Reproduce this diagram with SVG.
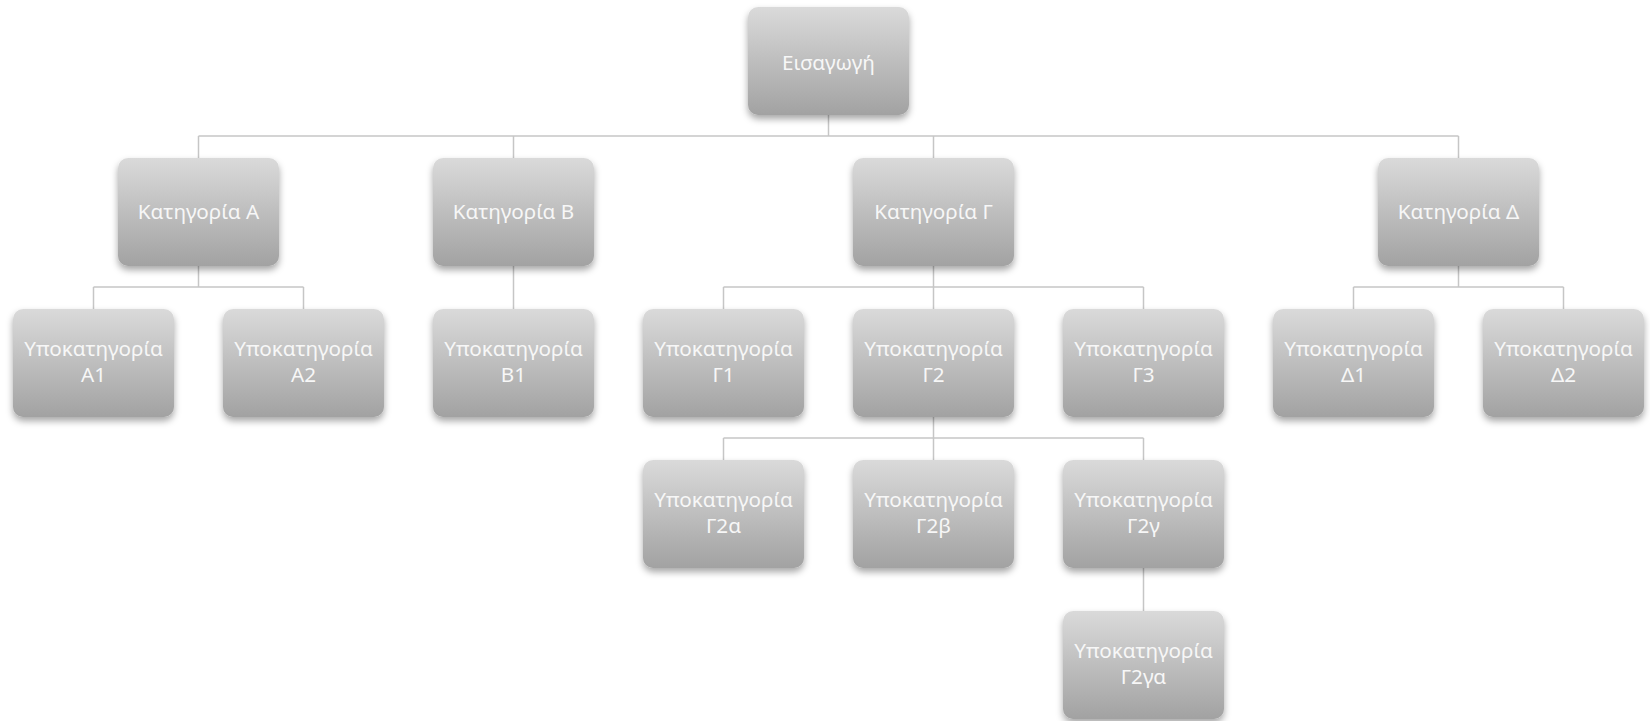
<svg xmlns="http://www.w3.org/2000/svg" width="1650" height="721" viewBox="0 0 1650 721">
  <style>
    .box { fill: url(#boxFill); filter: url(#soft); }
    .lbl { font-family: "Noto Sans", "Open Sans", sans-serif; font-size: 20.7px; fill: #f7f7f7; text-anchor: middle; }
    .wire { fill: none; stroke: #c6c6c6; stroke-width: 1.5; }
  </style>
  <defs>
    <linearGradient id="boxFill" x1="0" y1="0" x2="0" y2="1">
      <stop offset="0" stop-color="#dadada"/>
      <stop offset="0.5" stop-color="#bebebe"/>
      <stop offset="1" stop-color="#a2a2a2"/>
    </linearGradient>
    <filter id="soft" x="-10%" y="-10%" width="120%" height="135%">
      <feDropShadow dx="0" dy="4" stdDeviation="3.5" flood-color="#000" flood-opacity="0.35"/>
    </filter>
  </defs>
  <rect width="1650" height="721" fill="#ffffff"/>

  <g id="connectors">
    <!-- root to categories -->
    <path class="wire" d="M828.5 115 V136 M198.5 136 H1458.5 M198.5 136 V158 M513.5 136 V158 M933.5 136 V158 M1458.5 136 V158"/>
    <!-- category A -->
    <path class="wire" d="M198.5 266 V287 M93.5 287 H303.5 M93.5 287 V309 M303.5 287 V309"/>
    <!-- category B -->
    <path class="wire" d="M513.5 266 V309"/>
    <!-- category Γ -->
    <path class="wire" d="M933.5 266 V287 M723.5 287 H1143.5 M723.5 287 V309 M1143.5 287 V309 M933.5 287 V309"/>
    <!-- category Δ -->
    <path class="wire" d="M1458.5 266 V287 M1353.5 287 H1563.5 M1353.5 287 V309 M1563.5 287 V309"/>
    <!-- Γ2 children -->
    <path class="wire" d="M933.5 417 V438 M723.5 438 H1143.5 M723.5 438 V460 M1143.5 438 V460 M933.5 438 V460"/>
    <!-- Γ2γ child -->
    <path class="wire" d="M1143.5 568 V611"/>
  </g>

  <g id="n-root"><rect class="box" x="748" y="7" width="161" height="108" rx="10"/><text class="lbl" x="828.5" y="70">Εισαγωγή</text></g>

  <g id="n-a"><rect class="box" x="118" y="158" width="161" height="108" rx="10"/><text class="lbl" x="198.5" y="219">Κατηγορία Α</text></g>
  <g id="n-b"><rect class="box" x="433" y="158" width="161" height="108" rx="10"/><text class="lbl" x="513.5" y="219">Κατηγορία Β</text></g>
  <g id="n-g"><rect class="box" x="853" y="158" width="161" height="108" rx="10"/><text class="lbl" x="933.5" y="219">Κατηγορία Γ</text></g>
  <g id="n-d"><rect class="box" x="1378" y="158" width="161" height="108" rx="10"/><text class="lbl" x="1458.5" y="219">Κατηγορία Δ</text></g>

  <g id="n-a1"><rect class="box" x="13" y="309" width="161" height="108" rx="10"/><text class="lbl" x="93.5" y="356">Υποκατηγορία<tspan x="93.5" dy="26">Α1</tspan></text></g>
  <g id="n-a2"><rect class="box" x="223" y="309" width="161" height="108" rx="10"/><text class="lbl" x="303.5" y="356">Υποκατηγορία<tspan x="303.5" dy="26">Α2</tspan></text></g>
  <g id="n-b1"><rect class="box" x="433" y="309" width="161" height="108" rx="10"/><text class="lbl" x="513.5" y="356">Υποκατηγορία<tspan x="513.5" dy="26">Β1</tspan></text></g>
  <g id="n-g1"><rect class="box" x="643" y="309" width="161" height="108" rx="10"/><text class="lbl" x="723.5" y="356">Υποκατηγορία<tspan x="723.5" dy="26">Γ1</tspan></text></g>
  <g id="n-g2"><rect class="box" x="853" y="309" width="161" height="108" rx="10"/><text class="lbl" x="933.5" y="356">Υποκατηγορία<tspan x="933.5" dy="26">Γ2</tspan></text></g>
  <g id="n-g3"><rect class="box" x="1063" y="309" width="161" height="108" rx="10"/><text class="lbl" x="1143.5" y="356">Υποκατηγορία<tspan x="1143.5" dy="26">Γ3</tspan></text></g>
  <g id="n-d1"><rect class="box" x="1273" y="309" width="161" height="108" rx="10"/><text class="lbl" x="1353.5" y="356">Υποκατηγορία<tspan x="1353.5" dy="26">Δ1</tspan></text></g>
  <g id="n-d2"><rect class="box" x="1483" y="309" width="161" height="108" rx="10"/><text class="lbl" x="1563.5" y="356">Υποκατηγορία<tspan x="1563.5" dy="26">Δ2</tspan></text></g>

  <g id="n-g2a"><rect class="box" x="643" y="460" width="161" height="108" rx="10"/><text class="lbl" x="723.5" y="507">Υποκατηγορία<tspan x="723.5" dy="26">Γ2α</tspan></text></g>
  <g id="n-g2b"><rect class="box" x="853" y="460" width="161" height="108" rx="10"/><text class="lbl" x="933.5" y="507">Υποκατηγορία<tspan x="933.5" dy="26">Γ2β</tspan></text></g>
  <g id="n-g2c"><rect class="box" x="1063" y="460" width="161" height="108" rx="10"/><text class="lbl" x="1143.5" y="507">Υποκατηγορία<tspan x="1143.5" dy="26">Γ2γ</tspan></text></g>

  <g id="n-g2ca"><rect class="box" x="1063" y="611" width="161" height="108" rx="10"/><text class="lbl" x="1143.5" y="658">Υποκατηγορία<tspan x="1143.5" dy="26">Γ2γα</tspan></text></g>
</svg>
